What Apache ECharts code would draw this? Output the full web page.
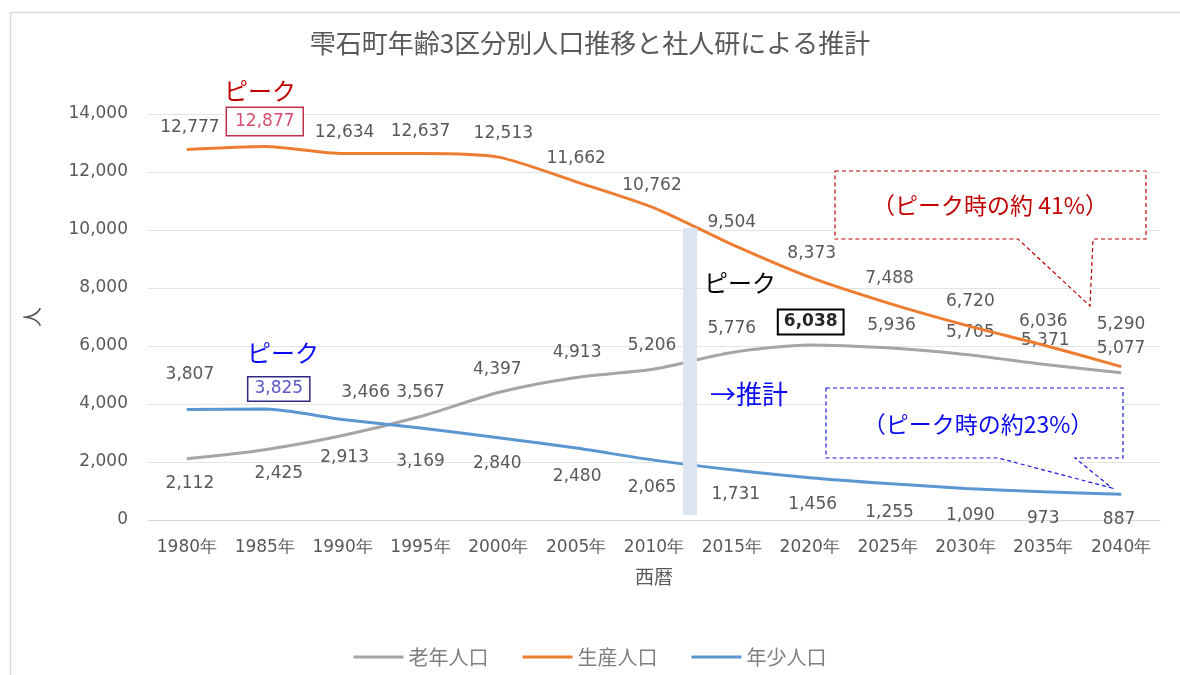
<!DOCTYPE html>
<html>
<head>
<meta charset="utf-8">
<script src="https://cdn.jsdelivr.net/npm/echarts@6/dist/echarts.min.js"></script>
<style>html,body{margin:0;padding:0;background:#fff;}#c{width:1180px;height:675px;}</style>
</head>
<body>
<div id="c"></div>
<script>
const categories = ['1980年','1985年','1990年','1995年','2000年','2005年','2010年','2015年','2020年','2025年','2030年','2035年','2040年'];
const elderly = [2112, 2425, 2913, 3567, 4397, 4913, 5206, 5776, 6038, 5936, 5705, 5371, 5077];
const working = [12777, 12877, 12634, 12637, 12513, 11662, 10762, 9504, 8373, 7488, 6720, 6036, 5290];
const young = [3807, 3825, 3466, 3169, 2840, 2480, 2065, 1731, 1456, 1255, 1090, 973, 887];
const yTicks = [0, 2000, 4000, 6000, 8000, 10000, 12000, 14000];
const seriesNames = ['老年人口', '生産人口', '年少人口'];

// label placement (offset of label centre from point, px)
const elderlyOff = [[3,25],[14,24],[2,22],[0,-24],[-1,-23],[1,-25],[-2,-23],[0,-24],[1,-23],[4,-22],[5,-22],[2,-24],[0,-24]];
const workingOff = [[3,-22],[0,-25],[2,-21],[0,-22],[5,-24],[0,-23],[-2,-22],[0,-22],[2,-24],[2,-24],[5,-24],[0,-23],[0,-42]];
const youngOff = [[3,-35],[14,-20],[23,-27],[0,33],[-1,26],[1,28],[-2,27],[4,25],[3,27],[2,29],[5,27],[0,27],[-2,25]];

const labelFont = 'DejaVu Sans';
const fmt = v => Number(v).toLocaleString('en-US');

function build(values, offs, special) {
  return values.map((v, i) => {
    const lab = { show: true, position: 'inside', offset: offs[i] };
    if (special && special[i]) Object.assign(lab, special[i]);
    return { value: v, label: lab };
  });
}

const chart = echarts.init(document.getElementById('c'));
const cjk = '"Noto Sans CJK JP", "Noto Sans", sans-serif';

const option = {
  backgroundColor: '#fff',
  animation: false,
  title: {
    text: '雫石町年齢3区分別人口推移と社人研による推計',
    left: 'center', top: 25,
    textStyle: { fontFamily: cjk, fontSize: 26, fontWeight: 'normal', color: '#595959' }
  },
  grid: { left: 148, right: 20, top: 114, bottom: 155 },
  legend: {
    bottom: 3, left: 'center',
    icon: 'rect', itemWidth: 50, itemHeight: 3, itemGap: 34,
    textStyle: { fontFamily: cjk, fontSize: 20, color: '#7f7f7f' },
    data: seriesNames
  },
  xAxis: {
    type: 'category', data: categories, boundaryGap: true,
    name: '西暦', nameLocation: 'middle', nameGap: 47,
    nameTextStyle: { fontFamily: cjk, fontSize: 19, color: '#595959' },
    axisLine: { show: true, lineStyle: { color: '#d9d9d9' } },
    axisTick: { show: false },
    axisLabel: { fontFamily: labelFont, fontSize: 17, color: '#595959', margin: 19, interval: 0 }
  },
  yAxis: {
    type: 'value', min: 0, max: 14000, interval: 2000,
    name: '人', nameLocation: 'middle', nameGap: 106, nameRotate: 90,
    nameTextStyle: { fontFamily: cjk, fontSize: 20, color: '#595959' },
    axisLine: { show: false }, axisTick: { show: false },
    splitLine: { lineStyle: { color: '#e3e3e3', width: 1 } },
    axisLabel: { fontFamily: labelFont, fontSize: 17, color: '#595959', margin: 20, formatter: v => fmt(v) }
  },
  series: [
    {
      name: seriesNames[0], type: 'line', smooth: 0.25,
      symbol: 'circle', symbolSize: 1, color: '#a5a5a5',
      lineStyle: { width: 3, color: '#a5a5a5' },
      label: { fontFamily: labelFont, fontSize: 17, color: '#595959', formatter: p => fmt(p.value) },
      data: build(elderly, elderlyOff, {
        8: { borderColor: '#000', borderWidth: 2, padding: [3, 5], backgroundColor: '#fff', color: '#262626', fontWeight: 'bold' }
      }),
      z: 3
    },
    {
      name: seriesNames[1], type: 'line', smooth: 0.25,
      symbol: 'circle', symbolSize: 1, color: '#ed7d31',
      lineStyle: { width: 3, color: '#ed7d31' },
      label: { fontFamily: labelFont, fontSize: 17, color: '#595959', formatter: p => fmt(p.value) },
      data: build(working, workingOff, {
        1: { borderColor: '#c0304a', borderWidth: 1.5, padding: [5, 8], backgroundColor: '#fff', color: '#d9506e' }
      }),
      z: 4
    },
    {
      name: seriesNames[2], type: 'line', smooth: 0.25,
      symbol: 'circle', symbolSize: 1, color: '#5b96d0',
      lineStyle: { width: 3, color: '#5b96d0' },
      label: { fontFamily: labelFont, fontSize: 17, color: '#595959', formatter: p => fmt(p.value) },
      data: build(young, youngOff, {
        1: { borderColor: '#302880', borderWidth: 1.5, padding: [3, 6], backgroundColor: '#fff', color: '#5a5ac8' }
      }),
      z: 3
    }
  ],
  graphic: [
    { type: 'rect', left: 8, top: 10, shape: { width: 1200, height: 700 }, style: { fill: 'none', stroke: '#d9d9d9', lineWidth: 1.5 }, z: -10, silent: true },
    { type: 'rect', shape: { x: 683, y: 228, width: 14, height: 287 }, style: { fill: '#dae5f1' }, z: 50 },
    { type: 'text', x: 224, y: 79, style: { text: 'ピーク', fill: '#c00000', font: '24px ' + cjk }, z: 60 },
    { type: 'text', x: 247, y: 341, style: { text: 'ピーク', fill: '#0a0af0', font: '24px ' + cjk }, z: 60 },
    { type: 'text', x: 704, y: 271, style: { text: 'ピーク', fill: '#000', font: '24px ' + cjk }, z: 60 },
    { type: 'text', x: 710, y: 381, style: { text: '→推計', fill: '#0a0af0', font: '26px ' + cjk }, z: 60 },
    { type: 'polygon', shape: { points: [[835,171],[1146,171],[1146,239],[1093,239],[1090,306],[1018,239],[835,239]] },
      style: { fill: '#fff', stroke: '#c00000', lineWidth: 1.2, lineDash: [4, 3] }, z: 55 },
    { type: 'text', x: 990, y: 205, style: { text: '（ピーク時の約 41%）', fill: '#c00000', font: '23px ' + cjk, align: 'center', verticalAlign: 'middle' }, z: 60 },
    { type: 'polygon', shape: { points: [[826,388],[1123,388],[1123,458],[1075,458],[1112,488],[998,458],[826,458]] },
      style: { fill: '#fff', stroke: '#1a1ae0', lineWidth: 1.2, lineDash: [4, 3] }, z: 55 },
    { type: 'text', x: 978, y: 424, style: { text: '（ピーク時の約23%）', fill: '#0a0af0', font: '23px ' + cjk, align: 'center', verticalAlign: 'middle' }, z: 60 }
  ]
};
chart.setOption(option);
</script>
</body>
</html>
